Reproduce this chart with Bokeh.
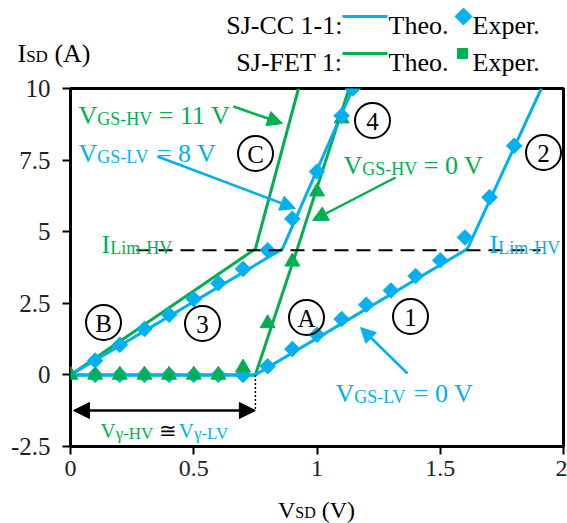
from bokeh.plotting import figure
from bokeh.layouts import column
from bokeh.models import Label, Arrow, NormalHead, FixedTicker, Range1d
from bokeh.embed import file_html
from bokeh.resources import INLINE

# ---------------- data ----------------
x_tick_vals = [0, 0.5, 1, 1.5, 2]
x_tick_labels = ["0", "0.5", "1", "1.5", "2"]
y_tick_vals = [-2.5, 0, 2.5, 5, 7.5, 10]
y_tick_labels = ["-2.5", "0", "2.5", "5", "7.5", "10"]

# SJ-CC 1-1, V_GS-LV = 0 V (curve 1/2)
cc_lv0_theo_x = [0, 0.75, 1.61, 1.91]
cc_lv0_theo_y = [0, 0, 4.4, 10]
cc_lv0_exp_x = [0.1, 0.2, 0.3, 0.4, 0.5, 0.6, 0.7, 0.8, 0.9, 1.0, 1.1, 1.2, 1.3, 1.4, 1.5, 1.6, 1.7, 1.8]
cc_lv0_exp_y = [0, 0, 0, 0, 0, 0, 0, 0.3, 0.9, 1.4, 1.95, 2.45, 2.95, 3.45, 4.0, 4.8, 6.2, 8.0]

# SJ-CC 1-1, V_GS-LV = 8 V (curve 3/4)
cc_lv8_theo_x = [0, 0.86, 1.145]
cc_lv8_theo_y = [0, 4.4, 10]
cc_lv8_exp_x = [0.1, 0.2, 0.3, 0.4, 0.5, 0.6, 0.7, 0.8, 0.9, 1.0, 1.1, 1.145]
cc_lv8_exp_y = [0.5, 1.05, 1.6, 2.1, 2.65, 3.2, 3.7, 4.35, 5.45, 7.1, 9.05, 10.0]

# SJ-FET 1, V_GS-HV = 11 V (curve C)
fet_hv11_theo_x = [0, 0.75, 0.925]
fet_hv11_theo_y = [0, 4.4, 10]

# SJ-FET 1, V_GS-HV = 0 V (curve A)
fet_hv0_theo_x = [0, 0.75, 0.92, 1.13]
fet_hv0_theo_y = [0, 0, 4.4, 10]
fet_hv0_exp_x = [0, 0.1, 0.2, 0.3, 0.4, 0.5, 0.6, 0.7, 0.8, 0.9, 1.0, 1.1]
fet_hv0_exp_y = [0, 0, 0, 0, 0, 0, 0, 0.25, 1.8, 3.95, 6.4, 8.95]

i_lim = 4.35
v_gamma = 0.75

# ---------------- style / layout ----------------
BLUE = "#00B0F0"
GREEN = "#00B050"
FONT = "Liberation Serif"
W = 567
TOP_H = 76            # header strip (legend, y title)
MAIN_TOP, MAIN_BOT = 76, 489
BOT_H = 523 - MAIN_BOT
FL, FR, FT, FB = 70, 563, 88, 446   # frame edges in page pixels
XMIN, XMAX, YMIN, YMAX = 0, 2, -2.5, 10

ADV = {'A': 722, 'B': 667, 'C': 667, 'D': 722, 'E': 611, 'F': 556, 'G': 722, 'H': 722,
       'I': 333, 'J': 389, 'L': 611, 'S': 556, 'T': 611, 'V': 722, 'a': 444, 'e': 444,
       'h': 500, 'i': 278, 'm': 778, 'o': 500, 'p': 500, 'r': 333, 'x': 500, '-': 333,
       '=': 564, '.': 250, ':': 278, '(': 333, ')': 333, ' ': 250, 'γ': 450, '≅': 700}


def tw(t, size):
    return sum(ADV.get(c, 500) for c in t) * size / 1000.0


def rich(fig, cx, cy, px, py, parts, align="left"):
    total = sum(tw(t, s) for t, s, c, sub in parts)
    if align == "right":
        px -= total
    elif align == "center":
        px -= total / 2
    for t, s, c, sub in parts:
        lead = len(t) - len(t.lstrip(" "))
        txt = t.strip(" ")
        x0 = px + tw(" " * lead, s)
        if txt:
            fig.add_layout(Label(x=cx(x0), y=cy(py + (3 if sub else 0)), text=txt,
                                 text_font=FONT, text_font_size=f"{s}px",
                                 text_color=c, text_baseline="alphabetic", text_align="left"))
        px += tw(t, s)


# ---------- main chart ----------
def dx(px):
    return XMIN + (px - FL) / (FR - FL) * (XMAX - XMIN)


def dy(py):
    return YMAX - (py - FT) / (FB - FT) * (YMAX - YMIN)


p = figure(width=W, height=MAIN_BOT - MAIN_TOP, output_backend="svg", toolbar_location=None,
           x_range=Range1d(XMIN, XMAX), y_range=Range1d(YMIN, YMAX), title=None,
           min_border_left=FL, min_border_right=W - FR, min_border_top=FT - MAIN_TOP,
           min_border_bottom=MAIN_BOT - FB)
p.frame_align = False
p.grid.visible = False
p.outline_line_color = "black"
p.outline_line_width = 3
p.background_fill_color = "white"
p.border_fill_color = "white"

for ax in (p.xaxis[0], p.yaxis[0]):
    ax.axis_line_color = None
    ax.major_tick_line_color = "black"
    ax.major_tick_line_width = 2
    ax.major_tick_out = 8
    ax.major_tick_in = 0
    ax.minor_tick_line_color = None
    ax.major_label_text_font = FONT
    ax.major_label_text_color = "#222222"
p.yaxis[0].major_label_text_font_size = "25px"
p.xaxis[0].major_label_text_font_size = "24px"


def key(v):
    return int(v) if float(v).is_integer() else v


p.xaxis[0].ticker = FixedTicker(ticks=x_tick_vals)
p.xaxis[0].major_label_overrides = {key(v): s for v, s in zip(x_tick_vals, x_tick_labels)}
p.xaxis[0].major_label_standoff = 6
p.yaxis[0].ticker = FixedTicker(ticks=y_tick_vals)
p.yaxis[0].major_label_overrides = {key(v): s for v, s in zip(y_tick_vals, y_tick_labels)}
p.yaxis[0].major_label_standoff = 12

p.line(fet_hv11_theo_x, fet_hv11_theo_y, line_color=GREEN, line_width=3)
p.line(fet_hv0_theo_x, fet_hv0_theo_y, line_color=GREEN, line_width=3)
p.line(cc_lv0_theo_x, cc_lv0_theo_y, line_color=BLUE, line_width=3)
p.line(cc_lv8_theo_x, cc_lv8_theo_y, line_color=BLUE, line_width=3)

p.scatter(cc_lv0_exp_x, cc_lv0_exp_y, marker="square", angle=0.785398, size=11,
          fill_color=BLUE, line_color=BLUE)
p.scatter(fet_hv0_exp_x, fet_hv0_exp_y, marker="triangle", size=15,
          fill_color=GREEN, line_color=GREEN)
p.scatter(cc_lv8_exp_x, cc_lv8_exp_y, marker="square", angle=0.785398, size=11,
          fill_color=BLUE, line_color=BLUE)

p.line([dx(136), dx(540)], [i_lim, i_lim], line_color="black", line_width=2, line_dash="14 8")

p.line([v_gamma, v_gamma], [0, dy(410)], line_color="black", line_width=1.5, line_dash="2 2")
p.add_layout(Arrow(start=NormalHead(size=16, fill_color="black", line_color="black"),
                   end=NormalHead(size=16, fill_color="black", line_color="black"),
                   x_start=dx(73), y_start=dy(410), x_end=v_gamma, y_end=dy(410),
                   line_color="black", line_width=2.5))


def arrow(x0, y0, x1, y1, color):
    p.add_layout(Arrow(end=NormalHead(size=15, fill_color=color, line_color=color),
                       x_start=dx(x0), y_start=dy(y0), x_end=dx(x1), y_end=dy(y1),
                       line_color=color, line_width=2.5))


M, S = 26, 18
rich(p, dx, dy, 78, 115, [("V", M, GREEN, False), ("GS-HV", S, GREEN, True), (" = 11 V", M, GREEN, False)])
arrow(233, 106, 282, 123, GREEN)
rich(p, dx, dy, 78, 153, [("V", M, BLUE, False), ("GS-LV", S, BLUE, True), (" = 8 V", M, BLUE, False)])
arrow(157, 156, 295, 208, BLUE)
rich(p, dx, dy, 343, 165, [("V", M, GREEN, False), ("GS-HV", S, GREEN, True), (" = 0 V", M, GREEN, False)])
arrow(395, 177, 312, 220, GREEN)
rich(p, dx, dy, 335, 393, [("V", M, BLUE, False), ("GS-LV", S, BLUE, True), (" = 0 V", M, BLUE, False)])
arrow(407, 373, 360, 327, BLUE)
rich(p, dx, dy, 101, 244, [("I", M, GREEN, False), ("Lim-HV", S, GREEN, True)])
rich(p, dx, dy, 489, 244, [("I", M, BLUE, False), ("Lim-HV", S, BLUE, True)])
rich(p, dx, dy, 100, 430, [("V", 21, GREEN, False), ("γ-HV", 17, GREEN, True),
                           (" ≅ ", 21, "black", False),
                           ("V", 21, BLUE, False), ("γ-LV", 17, BLUE, True)])

circ_text = ["B", "3", "C", "4", "2", "A", "1"]
circ_px = [(103, 322), (202, 323), (255, 153), (372, 120), (543, 152), (306, 317), (410, 316)]
p.scatter([dx(a) for a, b in circ_px], [dy(b) for a, b in circ_px], marker="circle", size=35,
          fill_color=None, line_color="black", line_width=2)
for t, (a, b) in zip(circ_text, circ_px):
    p.add_layout(Label(x=dx(a), y=dy(b + 1), text=t, text_font=FONT, text_font_size="25px",
                       text_color="black", text_align="center", text_baseline="middle"))


# ---------- header strip: y title + legend ----------
def strip(h):
    f = figure(width=W, height=h, output_backend="svg", toolbar_location=None, title=None,
               x_range=Range1d(0, W), y_range=Range1d(h, 0),
               x_axis_type=None, y_axis_type=None, min_border=0,
               min_border_left=0, min_border_right=0, min_border_top=0, min_border_bottom=0)
    f.frame_align = False
    f.grid.visible = False
    f.outline_line_color = None
    f.background_fill_color = "white"
    f.border_fill_color = "white"
    return f


top = strip(TOP_H)


def ident(v):
    return v


rich(top, ident, ident, 17, 53, [("I", 26, "black", False), ("SD", 17, "black", True),
                                  (" (A)", 26, "black", False)])
LS = 26
rich(top, ident, ident, 342, 25, [("SJ-CC 1-1:", LS, "black", False)], align="right")
top.line([342, 387], [16, 16], line_color=BLUE, line_width=3)
rich(top, ident, ident, 388, 25, [("Theo.", LS, "black", False)])
top.scatter([463], [16], marker="square", angle=0.785398, size=12, fill_color=BLUE, line_color=BLUE)
rich(top, ident, ident, 472, 25, [("Exper.", LS, "black", False)])

rich(top, ident, ident, 342, 62, [("SJ-FET 1:", LS, "black", False)], align="right")
top.line([342, 387], [53, 53], line_color=GREEN, line_width=3)
rich(top, ident, ident, 388, 62, [("Theo.", LS, "black", False)])
top.scatter([462], [53], marker="square", size=10, fill_color=GREEN, line_color=GREEN)
rich(top, ident, ident, 472, 62, [("Exper.", LS, "black", False)])

# ---------- footer strip: x title ----------
bot = strip(BOT_H)


def by(v):
    return v - MAIN_BOT


rich(bot, ident, by, 316, 509, [("V", 24, "black", False), ("SD", 16, "black", True),
                                 (" (V)", 24, "black", False)], align="center")

layout = column(top, p, bot, spacing=0)
open("out.html", "w").write(file_html(layout, INLINE))
